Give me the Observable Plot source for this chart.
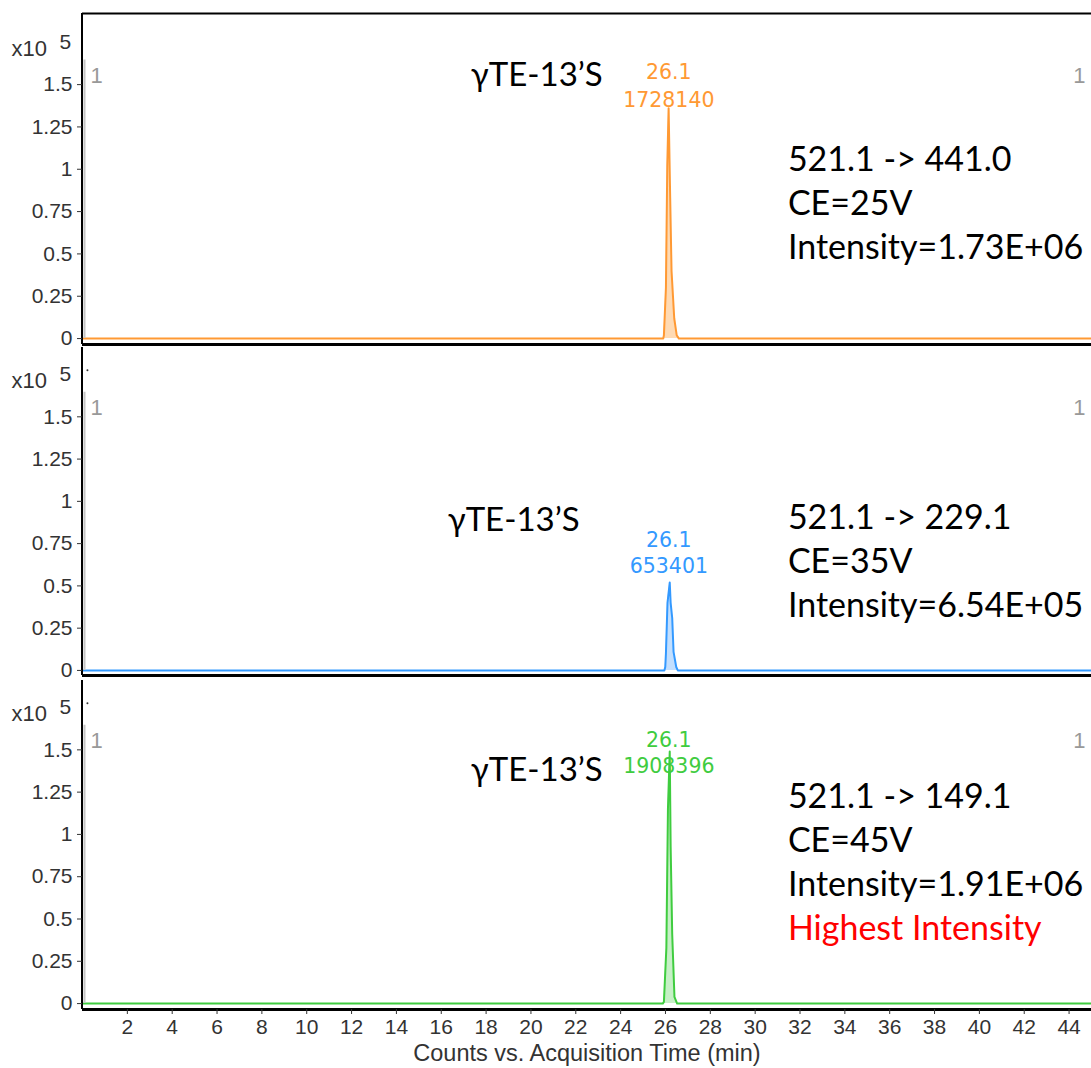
<!DOCTYPE html>
<html><head><meta charset="utf-8">
<script src="https://cdn.jsdelivr.net/npm/d3@7"></script>
<script src="https://cdn.jsdelivr.net/npm/@observablehq/plot@0.6"></script>
<style>body{margin:0;background:#fff} svg{display:block}</style>
</head><body><div id="chart"></div>
<script>
// ---- data (intensity in units of x10^5 counts, time in minutes) ----
const xTicks = [2,4,6,8,10,12,14,16,18,20,22,24,26,28,30,32,34,36,38,40,42,44];
const yTicks = [0, 0.25, 0.5, 0.75, 1, 1.25, 1.5];
const yTickLabels = ["0","0.25","0.5","0.75","1","1.25","1.5"];

const orangeTime  = [0, 25.90, 25.93, 26.02, 26.08, 26.14, 26.21, 26.27, 26.39, 26.50, 26.60, 45];
const orangeValue = [0, 0,     0.02,  0.30,  1.02,  1.36,  0.83,  0.40,  0.12,  0.02,  0,     0];
const blueTime    = [0, 25.95, 25.99, 26.02, 26.09, 26.19, 26.23, 26.30, 26.36, 26.48, 26.55, 45];
const blueValue   = [0, 0,     0.02,  0.10,  0.40,  0.52,  0.40,  0.31,  0.11,  0.02,  0,     0];
const greenTime   = [0, 25.88, 25.93, 26.04, 26.11, 26.19, 26.23, 26.30, 26.40, 26.52, 45];
const greenValue  = [0, 0,     0.01,  0.33,  1.15,  1.49,  0.93,  0.41,  0.04,  0,     0];

const compoundName = "γTE-13’S";
const peakRT = ["26.1", "26.1", "26.1"];
const peakArea = ["1728140", "653401", "1908396"];
const info1 = ["521.1 -> 441.0", "CE=25V", "Intensity=1.73E+06"];
const info2 = ["521.1 -> 229.1", "CE=35V", "Intensity=6.54E+05"];
const info3 = ["521.1 -> 149.1", "CE=45V", "Intensity=1.91E+06"];
const highlight = "Highest Intensity";
const xTitle = "Counts vs. Acquisition Time (min)";

const tickFont = "Liberation Sans, Arial, sans-serif";
const bigFont = "Lato, 'Open Sans', sans-serif";
const peakFont = "DejaVu Sans, sans-serif";
const tickColor = "#333";

function panel(cfg) {
  const data = cfg.time.map((t, i) => ({t, v: cfg.value[i]}));
  const [y0, y1] = cfg.yDomain;
  const marks = [
    Plot.areaY(data, {x: "t", y: "v", fill: cfg.fill}),
    Plot.lineY(data, {x: "t", y: "v", stroke: cfg.color, strokeWidth: 2}),
    Plot.ruleX([0], {y1: 0, y2: 1.645, stroke: "#c4c4c4", strokeWidth: 2, dx: 2}),
    Plot.ruleX([0], {stroke: "black", strokeWidth: 2, dx: -0.5}),
    Plot.ruleY([y0], {stroke: "black", strokeWidth: 3}),
    Plot.axisY({ticks: yTicks, tickFormat: (d) => yTickLabels[yTicks.indexOf(d)], tickSize: 5, tickPadding: 5,
      fontSize: 21, fontFamily: tickFont, fill: tickColor, stroke: tickColor, label: null}),
    Plot.text(["x10"], {x: 0, y: 1.71, text: d => d, dx: -71, textAnchor: "start", fontSize: 22, fontFamily: tickFont, fill: tickColor}),
    Plot.text(["5"], {x: 0, y: 1.71, text: d => d, dx: -23, dy: -7, textAnchor: "start", fontSize: 21, fontFamily: tickFont, fill: tickColor}),
    Plot.text(["1"], {x: 0, y: 1.55, text: d => d, dx: 8, textAnchor: "start", fontSize: 22, fontFamily: tickFont, fill: "#999"}),
    Plot.text(["1"], {x: 45, y: 1.55, text: d => d, dx: -6, textAnchor: "end", fontSize: 22, fontFamily: tickFont, fill: "#999"}),
    Plot.text([compoundName], {x: cfg.nameX, y: cfg.nameY, text: d => d, fontSize: 33, fontFamily: bigFont, fill: "black"}),
    Plot.text([cfg.rt], {x: 26.15, y: cfg.labelY[0], text: d => d, fontSize: 20.5, fontFamily: peakFont, fill: cfg.color}),
    Plot.text([cfg.area], {x: 26.15, y: cfg.labelY[1], text: d => d, fontSize: 20.5, fontFamily: peakFont, fill: cfg.color}),
    Plot.text(cfg.info, {x: 31.46, y: (d, i) => cfg.infoY0 - i * 0.26, text: d => d, textAnchor: "start",
      fontSize: 34, fontFamily: bigFont, fill: "black"})
  ];
  if (cfg.top) marks.push(Plot.ruleY([y1], {stroke: "black", strokeWidth: 2}));
  if (cfg.dot) marks.push(Plot.dot([0.22], {x: d => d, y: 1.775, r: 1, fill: "#333", stroke: null}));
  if (cfg.highlight) marks.push(Plot.text([highlight], {x: 31.46, y: cfg.infoY0 - 3 * 0.26, text: d => d, textAnchor: "start",
      fontSize: 34, fontFamily: bigFont, fill: "#ff0000"}));
  if (cfg.xAxis) {
    marks.push(Plot.axisX({ticks: xTicks, tickSize: 5, tickPadding: 5, fontSize: 21, fontFamily: tickFont, fill: tickColor, stroke: tickColor, label: null}));
    marks.push(Plot.text([xTitle], {frameAnchor: "bottom", text: d => d, dy: 44, lineAnchor: "middle", fontSize: 23.5, fontFamily: tickFont, fill: tickColor}));
  }
  return Plot.plot({
    width: 1091, height: cfg.height,
    marginLeft: 82, marginRight: 0, marginTop: cfg.mt, marginBottom: cfg.mb,
    x: {domain: [0, 45], axis: cfg.xAxis ? undefined : null},
    y: {domain: cfg.yDomain},
    style: {background: "white", overflow: "visible"},
    marks
  });
}

const chart = document.getElementById("chart");
chart.append(panel({time: orangeTime, value: orangeValue, color: "#ff9933", fill: "#ffdab3",
  height: 346, mt: 13, mb: 2, yDomain: [-0.035, 1.92], top: true,
  nameX: 20.26, nameY: 1.556, rt: peakRT[0], area: peakArea[0], labelY: [1.574, 1.408], info: info1, infoY0: 1.053}));
chart.append(panel({time: blueTime, value: blueValue, color: "#3399ff", fill: "#c2dfff",
  height: 332, mt: 1, mb: 3, yDomain: [-0.03, 1.91], dot: true,
  nameX: 19.23, nameY: 0.888, rt: peakRT[1], area: peakArea[1], labelY: [0.769, 0.615], info: info2, infoY0: 0.899}));
chart.append(panel({time: greenTime, value: greenValue, color: "#3fcc3f", fill: "#c6f0c6",
  height: 390, mt: 2, mb: 59, yDomain: [-0.035, 1.91], dot: true, xAxis: true, highlight: true,
  nameX: 20.26, nameY: 1.379, rt: peakRT[2], area: peakArea[2], labelY: [1.556, 1.402], info: info3, infoY0: 1.219}));
</script></body></html>
